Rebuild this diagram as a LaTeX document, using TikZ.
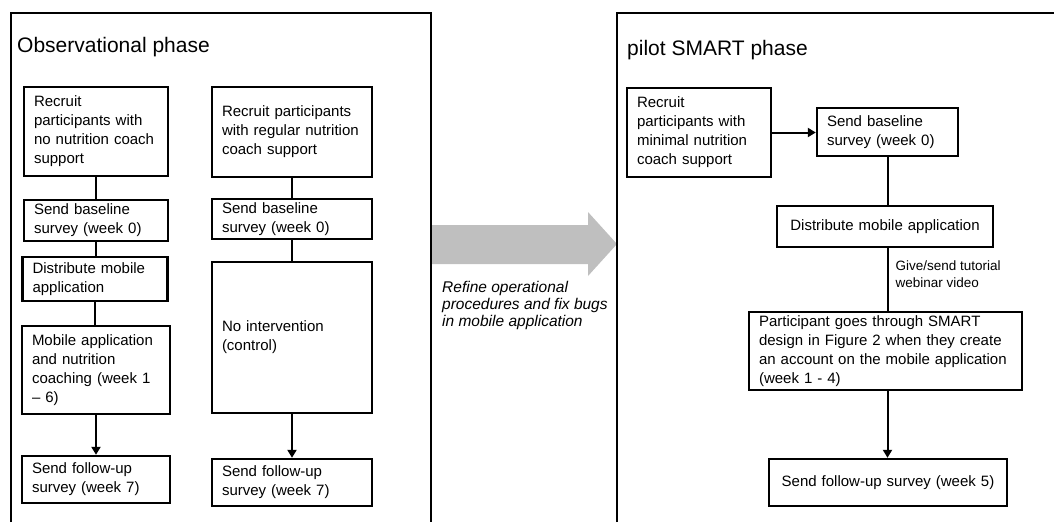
\documentclass[tikz,border=0pt]{standalone}
\usepackage{fontspec}
\setmainfont{Liberation Sans}
\usetikzlibrary{arrows.meta}
\definecolor{arrowgray}{RGB}{191,191,191}
\tikzset{
  box/.style={draw, line width=2.4pt, inner xsep=10pt, inner ysep=0pt, align=left,
    font=\fontsize{15}{19}\selectfont},
  cbox/.style={box, align=center},
  conn/.style={line width=2pt},
  arr/.style={conn, -{Triangle[width=9pt,length=8pt]}},
  frame/.style={line width=2.6pt},
  title/.style={anchor=base west, inner sep=0pt, font=\fontsize{21}{25}\selectfont},
}
\begin{document}
\begin{tikzpicture}[x=1pt,y=-1pt]
\useasboundingbox (0,0) rectangle (1054,522);
% gray block arrow
\fill[arrowgray] (432,225) -- (588,225) -- (588,212) -- (617,244) -- (588,276) -- (588,264) -- (432,264) -- cycle;
% frames
\draw[frame] (11,522) -- (11,13) -- (431,13) -- (431,522);
\draw[frame] (617,522) -- (617,13) -- (1054,13);
\node[title] (t1) at (17,52) {Observational phase};
\node[title] (t2) at (627,55) {pilot SMART phase};
% left column
\node[box, text width=124pt, minimum width=144pt, minimum height=89pt] (L1) at (96,131.5) {Recruit\\participants with\\no nutrition coach\\support};
\node[box, text width=124pt, minimum width=144pt, minimum height=41pt] (L2) at (96,220.5) {Send baseline\\survey (week 0)};
\node[box, text width=125pt, minimum width=145pt, minimum height=44pt] (L3) at (95,279) {Distribute mobile\\application};
\node[box, text width=128pt, minimum width=148pt, minimum height=88pt] (L4) at (96,370) {Mobile application\\and nutrition\\coaching (week 1\\– 6)};
\node[box, text width=128pt, minimum width=148pt, minimum height=47pt] (L5) at (96,479.5) {Send follow-up\\survey (week 7)};
\draw[conn] (L1.south) -- (L1.south |- L2.north);
\draw[conn] (L2.south) -- (L2.south |- L3.north);
\draw[conn] (L3.south) -- (L3.south |- L4.north);
\draw[arr] (L4.south) -- (L4.south |- L5.north);
% second column
\node[box, text width=140pt, minimum width=160pt, minimum height=90pt] (R1) at (292,132) {Recruit participants\\with regular nutrition\\coach support};
\node[box, text width=140pt, minimum width=160pt, minimum height=40pt] (R2) at (292,219) {Send baseline\\survey (week 0)};
\node[box, text width=140pt, minimum width=160pt, minimum height=151pt] (R3) at (292,337.5) {No intervention\\(control)};
\node[box, text width=140pt, minimum width=160pt, minimum height=47pt] (R4) at (292,482.5) {Send follow-up\\survey (week 7)};
\draw[conn] (R1.south) -- (R1.south |- R2.north);
\draw[conn] (R2.south) -- (R2.south |- R3.north);
\draw[arr] (R3.south) -- (R3.south |- R4.north);
% middle text
\node[anchor=north west, inner sep=0pt, align=left, font=\fontsize{15.5}{17}\selectfont\itshape] (mid) at (442,281) {Refine operational\\procedures and fix bugs\\in mobile application};
% right frame
\node[box, text width=124pt, minimum width=144pt, minimum height=89pt] (P1) at (699,132.5) {Recruit\\participants with\\minimal nutrition\\coach support};
\node[box, text width=121pt, minimum width=141pt, minimum height=48pt] (P2) at (887.5,132) {Send baseline\\survey (week 0)};
\node[cbox, text width=196pt, minimum width=216pt, minimum height=41pt] (P3) at (885,226.5) {Distribute mobile application};
\node[box, text width=253pt, minimum width=273pt, minimum height=78pt] (P4) at (885.5,351) {Participant goes through SMART\\design in Figure 2 when they create\\an account on the mobile application\\(week 1 - 4)};
\node[cbox, text width=218pt, minimum width=238pt, minimum height=47pt] (P5) at (888,482.5) {Send follow-up survey (week 5)};
\draw[arr] (P1.east) -- (P1.east -| P2.west);
\draw[conn] (P2.south) -- (P2.south |- P3.north);
\draw[conn] (P2.south |- P3.south) -- (P2.south |- P4.north)
  node[pos=0.185, anchor=north west, inner sep=0pt, xshift=7pt, align=left, font=\fontsize{13.5}{17}\selectfont] (lab) {Give/send tutorial\\webinar video};
\draw[arr] (P2.south |- P4.south) -- (P2.south |- P5.north);
\end{tikzpicture}
\end{document}
